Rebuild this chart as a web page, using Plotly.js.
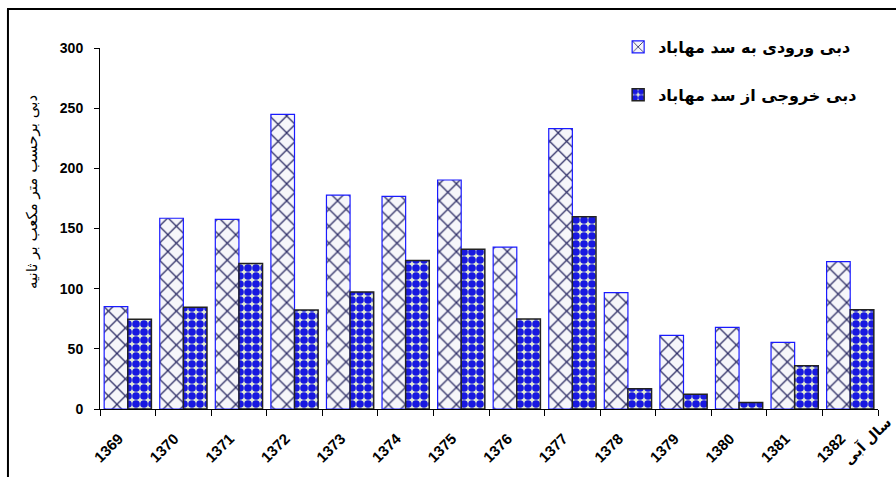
<!DOCTYPE html>
<html>
<head>
<meta charset="utf-8">
<script src="https://cdn.plot.ly/plotly-3.0.1.min.js"></script>
<style>
html,body{margin:0;padding:0;background:#fff;}
#chart{width:896px;height:477px;}
</style>
</head>
<body>
<div id="chart"></div>
<script>
var years = ['1369','1370','1371','1372','1373','1374','1375','1376','1377','1378','1379','1380','1381','1382'];
var inflow = [85, 158.5, 157.6, 244.9, 177.8, 176.7, 190.3, 134.6, 233, 96.7, 61.2, 67.9, 55.4, 122.4];
var outflow = [74.5, 84.5, 121, 82.3, 97.2, 123.5, 132.7, 74.8, 159.8, 16.9, 12.2, 5.3, 36, 82.5];
var inflowName = 'دبی ورودی به سد مهاباد';
var outflowName = 'دبی خروجی از سد مهاباد';
var yTitle = 'دبی برحسب متر مکعب بر ثانیه';
var xTitle = 'سال آبی';
var yTicks = [0, 50, 100, 150, 200, 250, 300];

var faFont = 'DejaVu Sans, Noto Sans, sans-serif';
var numFont = 'Liberation Sans, Arial, sans-serif';

var traces = [
  {
    type: 'bar', x: years, y: inflow, name: inflowName, legendgroup: 'a',
    marker: {
      color: '#f6f6fa',
      line: {color: '#1a1aff', width: 1.2},
      pattern: {shape: 'x', fgcolor: '#2e2e66', bgcolor: '#f6f6fa', size: 12, solidity: 0.2, fillmode: 'replace'}
    },
    hoverinfo: 'x+y'
  },
  {
    type: 'bar', x: years, y: outflow, name: outflowName, legendgroup: 'b',
    marker: {
      color: '#1818e0',
      line: {color: '#222222', width: 1.5},
      pattern: {shape: '.', fgcolor: '#1818e0', bgcolor: '#e4ecd2', size: 8, solidity: 0.72, fillmode: 'replace'}
    },
    hoverinfo: 'x+y'
  }
];

var layout = {
  width: 896, height: 477,
  margin: {l: 100, r: 18, t: 48, b: 68},
  paper_bgcolor: '#ffffff', plot_bgcolor: 'rgba(0,0,0,0)',
  barmode: 'group', bargap: 0.15, bargroupgap: 0,
  showlegend: true,
  legend: {
    x: 0.666, xanchor: 'left', y: 1.05, yanchor: 'top',
    bgcolor: 'rgba(0,0,0,0)', traceorder: 'grouped', tracegroupgap: 24,
    font: {family: faFont, size: 16, color: '#000', weight: 'bold'}
  },
  xaxis: {
    type: 'category', tickson: 'boundaries', ticks: 'outside', ticklen: 6, tickcolor: '#000',
    showline: true, linecolor: '#000', linewidth: 1, showgrid: false, zeroline: false,
    tickangle: -45, ticklabelstandoff: 14, ticklabelshift: -9,
    tickfont: {family: numFont, size: 15, color: '#000', weight: 'bold'}
  },
  yaxis: {
    range: [0, 300], tickvals: yTicks, ticks: 'outside', ticklen: 5, tickcolor: '#000',
    showline: true, linecolor: '#000', linewidth: 1, showgrid: false, zeroline: false,
    ticklabelstandoff: 8,
    tickfont: {family: numFont, size: 14, color: '#000', weight: 'bold'}
  },
  annotations: [
    {text: yTitle, xref: 'paper', yref: 'paper', x: -0.0875, y: 0.601, xanchor: 'center', yanchor: 'middle',
     textangle: -90, showarrow: false, font: {family: faFont, size: 15, color: '#000'}},
    {text: xTitle, xref: 'paper', yref: 'paper', x: 0.986, y: -0.088, xanchor: 'center', yanchor: 'middle',
     textangle: -45, showarrow: false, font: {family: faFont, size: 14, color: '#000', weight: 'bold'}}
  ],
  shapes: [
    {type: 'line', xref: 'paper', yref: 'paper', x0: -0.1183, x1: -0.1183, y0: 1.108, y1: -0.2,
     line: {color: '#000', width: 2}},
    {type: 'line', xref: 'paper', yref: 'paper', x0: -0.1195, x1: 1.03, y0: 1.108, y1: 1.108,
     line: {color: '#000', width: 2}}
  ]
};

Plotly.newPlot('chart', traces, layout, {displayModeBar: false, staticPlot: true});
</script>
</body>
</html>
